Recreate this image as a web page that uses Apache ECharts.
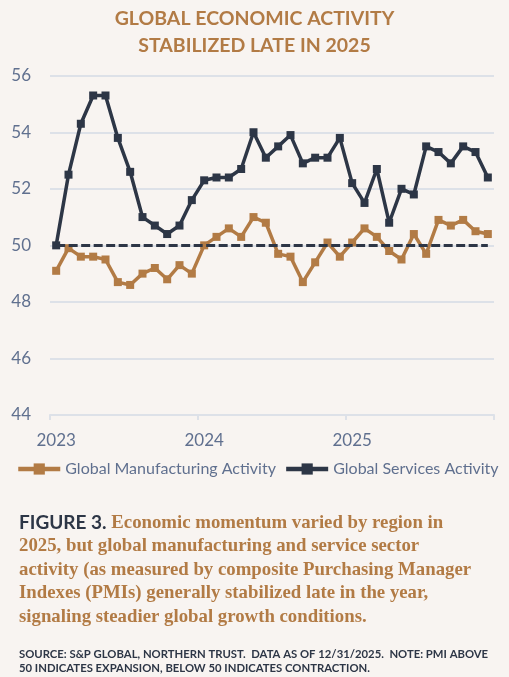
<!DOCTYPE html>
<html>
<head>
<meta charset="utf-8">
<script src="https://cdn.jsdelivr.net/npm/echarts@6/dist/echarts.min.js"></script>
<style>
  html, body { margin: 0; padding: 0; background: #f8f4f1; }
  #chart { width: 509px; height: 677px; }
</style>
</head>
<body>
<div id="chart"></div>
<script>
const categories = [
  'Jan 2023','Feb 2023','Mar 2023','Apr 2023','May 2023','Jun 2023','Jul 2023','Aug 2023','Sep 2023','Oct 2023','Nov 2023','Dec 2023',
  'Jan 2024','Feb 2024','Mar 2024','Apr 2024','May 2024','Jun 2024','Jul 2024','Aug 2024','Sep 2024','Oct 2024','Nov 2024','Dec 2024',
  'Jan 2025','Feb 2025','Mar 2025','Apr 2025','May 2025','Jun 2025','Jul 2025','Aug 2025','Sep 2025','Oct 2025','Nov 2025','Dec 2025'
];
const manufacturing = [
  49.1, 49.9, 49.6, 49.6, 49.5, 48.7, 48.6, 49.0, 49.2, 48.8, 49.3, 49.0,
  50.0, 50.3, 50.6, 50.3, 51.0, 50.8, 49.7, 49.6, 48.7, 49.4, 50.1, 49.6,
  50.1, 50.6, 50.3, 49.8, 49.5, 50.4, 49.7, 50.9, 50.7, 50.9, 50.5, 50.4
];
const services = [
  50.0, 52.5, 54.3, 55.3, 55.3, 53.8, 52.6, 51.0, 50.7, 50.4, 50.7, 51.6,
  52.3, 52.4, 52.4, 52.7, 54.0, 53.1, 53.5, 53.9, 52.9, 53.1, 53.1, 53.8,
  52.2, 51.5, 52.7, 50.8, 52.0, 51.8, 53.5, 53.3, 52.9, 53.5, 53.3, 52.4
];
const seriesNames = ['Global Manufacturing Activity', 'Global Services Activity'];
const referenceLevel = 50;
const yMin = 44, yMax = 56, yStep = 2;

const titleText = 'GLOBAL ECONOMIC ACTIVITY\nSTABILIZED LATE IN 2025';
const captionLines = [
  '{b|FIGURE 3.} Economic momentum varied by region in',
  '2025, but global manufacturing and service sector',
  'activity (as measured by composite Purchasing Manager',
  'Indexes (PMIs) generally stabilized late in the year,',
  'signaling steadier global growth conditions.'
];
const sourceLines = [
  'SOURCE: S&P GLOBAL, NORTHERN TRUST.  DATA AS OF 12/31/2025.  NOTE: PMI ABOVE',
  '50 INDICATES EXPANSION, BELOW 50 INDICATES CONTRACTION.'
];

const ORANGE = '#b27b45';
const DARK = '#2d3646';
const SLATE = '#60708f';
const GRID = '#dde1e8';
const SANS = 'Lato, "Open Sans", sans-serif';

const chart = echarts.init(document.getElementById('chart'));
chart.setOption({
  backgroundColor: '#f8f4f1',
  animation: false,
  title: {
    text: titleText,
    left: 'center',
    top: 0,
    textStyle: { color: ORANGE, fontFamily: SANS, fontWeight: 'bold', fontSize: 19.5, lineHeight: 27 }
  },
  legend: {
    left: 16,
    top: 461,
    width: 505,
    padding: 0,
    itemWidth: 42,
    itemHeight: 14,
    itemGap: 8,
    data: seriesNames,
    lineStyle: { width: 4.5 },
    itemStyle: { borderWidth: 0 },
    textStyle: { color: SLATE, fontFamily: SANS, fontSize: 16 }
  },
  grid: { left: 50, right: 15, top: 75.7, bottom: 262, containLabel: false },
  xAxis: {
    type: 'category',
    data: categories,
    boundaryGap: true,
    axisLine: { show: true, lineStyle: { color: GRID, width: 2 } },
    axisTick: { show: true, interval: 11, length: 5, lineStyle: { color: GRID, width: 2 } },
    axisLabel: {
      interval: 11,
      margin: 17,
      color: SLATE,
      fontFamily: SANS,
      fontSize: 17,
      formatter: v => v.split(' ')[1]
    },
    splitLine: { show: false }
  },
  yAxis: {
    type: 'value',
    min: yMin,
    max: yMax,
    interval: yStep,
    axisLine: { show: false },
    axisTick: { show: false },
    axisLabel: { color: SLATE, fontFamily: SANS, fontSize: 17, margin: 19 },
    splitLine: { lineStyle: { color: GRID, width: 2 } }
  },
  series: [
    {
      name: seriesNames[0],
      type: 'line',
      data: manufacturing,
      symbol: 'rect',
      symbolSize: 8,
      showSymbol: true,
      itemStyle: { color: ORANGE },
      lineStyle: { color: ORANGE, width: 3.5 },
      z: 2
    },
    {
      name: seriesNames[1],
      type: 'line',
      data: services,
      symbol: 'rect',
      symbolSize: 8,
      showSymbol: true,
      itemStyle: { color: DARK },
      lineStyle: { color: DARK, width: 3.5 },
      z: 3,
      markLine: {
        silent: true,
        symbol: 'none',
        label: { show: false },
        lineStyle: { color: DARK, width: 3, type: [9, 3.5] },
        data: [[
          { coord: [0, referenceLevel] },
          { coord: [categories.length - 1, referenceLevel] }
        ]]
      }
    }
  ],
  graphic: [
    {
      type: 'text',
      left: 19,
      top: 511,
      style: {
        text: captionLines.join('\n'),
        fill: ORANGE,
        font: 'bold 18.8px "Liberation Serif", serif',
        lineHeight: 23.5,
        rich: {
          b: { fill: DARK, font: 'bold 19px ' + SANS, lineHeight: 23.5 }
        }
      }
    },
    {
      type: 'text',
      left: 19,
      top: 648,
      style: {
        text: sourceLines.join('\n'),
        fill: DARK,
        font: 'bold 11.3px ' + SANS,
        lineHeight: 13.5
      }
    }
  ]
});
</script>
</body>
</html>
